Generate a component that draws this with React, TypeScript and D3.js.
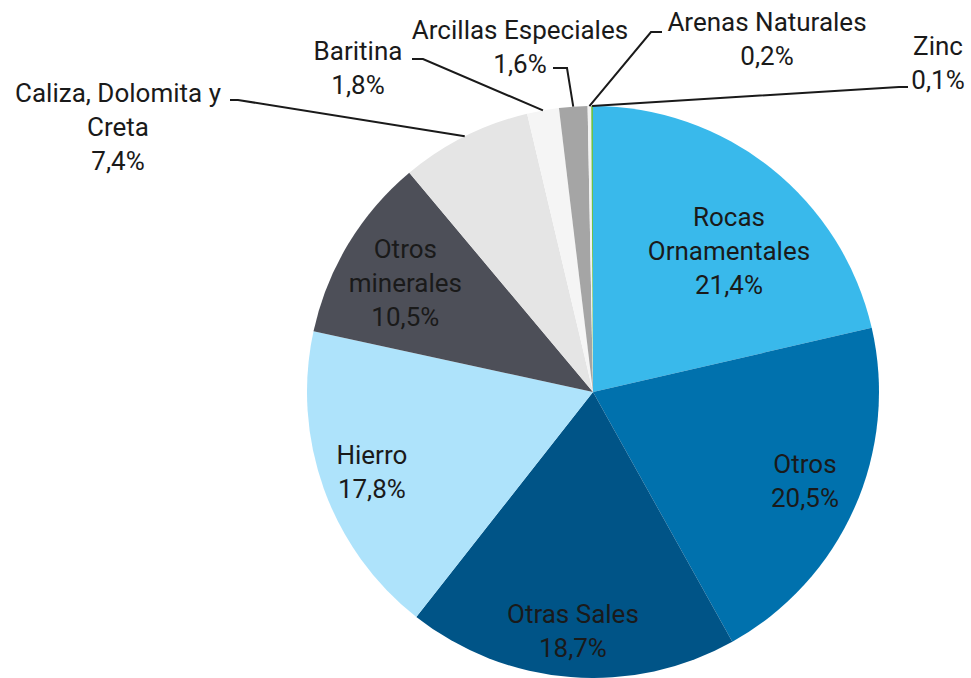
import React from 'react';
import * as d3 from 'd3';

// chart data
const categories = [
  'Rocas Ornamentales', 'Otros', 'Otras Sales', 'Hierro', 'Otros minerales',
  'Caliza, Dolomita y Creta', 'Baritina', 'Arcillas Especiales', 'Arenas Naturales', 'Zinc',
];
const shares = [21.4, 20.5, 18.7, 17.8, 10.5, 7.4, 1.8, 1.6, 0.2, 0.1];
const labelLines = [
  ['Rocas', 'Ornamentales'],
  ['Otros'],
  ['Otras Sales'],
  ['Hierro'],
  ['Otros', 'minerales'],
  ['Caliza, Dolomita y', 'Creta'],
  ['Baritina'],
  ['Arcillas Especiales'],
  ['Arenas Naturales'],
  ['Zinc'],
];
const colors = [
  '#39b9eb', '#0071ad', '#005487', '#aee3fb', '#4d4f58',
  '#e5e5e5', '#f5f5f5', '#a5a5a5', '#f2f2f2', '#6cc04a',
];

// layout
const W = 971;
const H = 678;
const CX = 593;
const CY = 392;
const R = 286;
const LINE_H = 34;

// inside labels: radius and angle nudge (degrees)
const insideLayout: Record<number, { r: number; da: number }> = {
  0: { r: 196, da: 5.4 },
  1: { r: 230, da: -1.1 },
  2: { r: 240, da: 0.3 },
  3: { r: 235, da: 0 },
  4: { r: 217, da: -1 },
};

// outside labels: text centre and leader path (after the point on the rim)
const outsideLayout: Record<number, { x: number; y: number; path: [number, number][] }> = {
  5: { x: 118, y: 127, path: [[238, 100], [230, 100]] },
  6: { x: 358, y: 68, path: [[423, 59], [412, 59]] },
  7: { x: 520, y: 47, path: [[567, 68], [553, 68]] },
  8: { x: 767, y: 39, path: [[651, 32], [662, 32]] },
  9: { x: 938, y: 63, path: [[899, 87], [908, 87]] },
};

const fmt = (v: number) => `${v.toFixed(1).replace('.', ',')}%`;

export default function App() {
  const pie = d3.pie<number>().sort(null).value((d) => d);
  const arcs = pie(shares);
  const arc = d3.arc<d3.PieArcDatum<number>>().innerRadius(0).outerRadius(R);

  const polar = (angleDeg: number, r: number): [number, number] => {
    const a = (angleDeg * Math.PI) / 180;
    return [r * Math.sin(a), -r * Math.cos(a)];
  };

  const renderText = (i: number, x: number, y: number) => {
    const lines = [...labelLines[i], fmt(shares[i])];
    const n = lines.length;
    return (
      <text key={`t${i}`} x={x} y={y} textAnchor="middle" fill="#1a1a1a"
        fontFamily="Roboto, 'Noto Sans', sans-serif" fontSize={26}>
        {lines.map((l, k) => (
          <tspan key={k} x={x} y={y + (k - (n - 1) / 2) * LINE_H + 9}>{l}</tspan>
        ))}
      </text>
    );
  };

  return (
    <svg width={W} height={H} style={{ position: 'absolute', left: 0, top: 0 }}>
      <rect width={W} height={H} fill="#ffffff" />
      <g transform={`translate(${CX},${CY})`}>
        {arcs.map((d, i) => (
          <path key={categories[i]} d={arc(d) || ''} fill={colors[i]} />
        ))}
        {arcs.map((d, i) => {
          const mid = (((d.startAngle + d.endAngle) / 2) * 180) / Math.PI;
          const out = outsideLayout[i];
          if (!out) return null;
          const [sx, sy] = polar(mid, R);
          const pts: [number, number][] = [[sx, sy], ...out.path.map(([px, py]) => [px - CX, py - CY] as [number, number])];
          return (
            <path key={`l${i}`} d={d3.line()(pts) || ''} fill="none" stroke="#1a1a1a" strokeWidth={2} />
          );
        })}
      </g>
      {arcs.map((d, i) => {
        const mid = (((d.startAngle + d.endAngle) / 2) * 180) / Math.PI;
        const inside = insideLayout[i];
        if (inside) {
          const [x, y] = polar(mid + inside.da, inside.r);
          return renderText(i, CX + x, CY + y);
        }
        const out = outsideLayout[i];
        return renderText(i, out.x, out.y);
      })}
    </svg>
  );
}
